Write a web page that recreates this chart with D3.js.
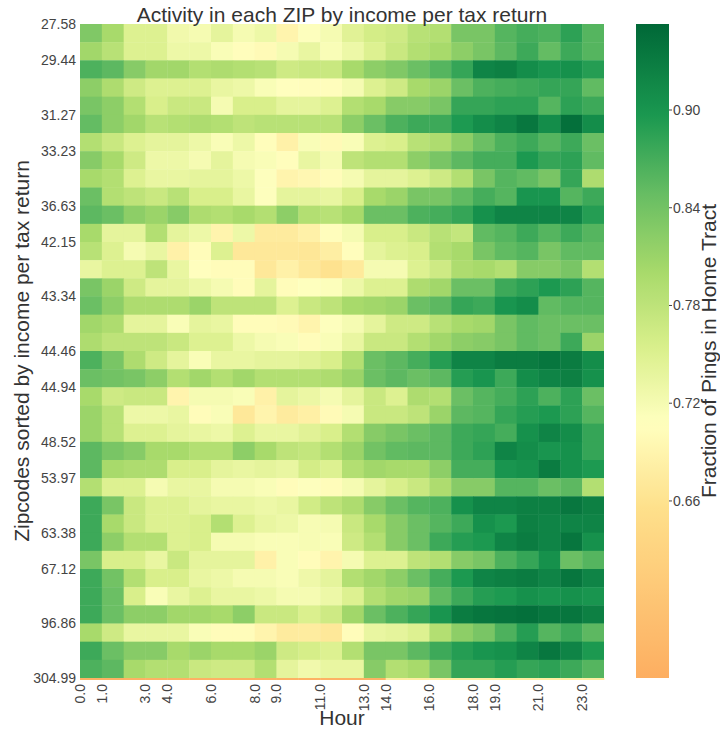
<!DOCTYPE html>
<html>
<head>
<meta charset="utf-8">
<script src="https://cdn.jsdelivr.net/npm/d3@7"></script>
<style>
  body { margin: 0; background: #fff; }
  svg { font-family: "Liberation Sans", Arial, sans-serif; }
</style>
</head>
<body>
<svg id="chart" width="720" height="731"></svg>
<script>
const hours = d3.range(24);
const hourTicks = [0, 1, 3, 4, 6, 8, 9, 11, 13, 14, 16, 18, 19, 21, 23];
const zipTickLabels = ["27.58", "29.44", "31.27", "33.23", "36.63", "42.15", "43.34", "44.46",
  "44.94", "48.52", "53.97", "63.38", "67.12", "96.86", "304.99"];
const zipTickRows = [0, 2, 5, 7, 10, 12, 15, 18, 20, 23, 25, 28, 30, 33, 36];
const colorTicks = [0.66, 0.72, 0.78, 0.84, 0.90];
const colorDomain = [0.5513, 0.9528];

// fraction of pings in home tract, one row per zip (sorted by income), one value per hour
const fractions = [
  [0.83,0.80,0.75,0.75,0.725,0.72,0.74,0.72,0.73,0.69,0.71,0.72,0.745,0.76,0.765,0.785,0.79,0.835,0.835,0.86,0.87,0.865,0.885,0.86],
  [0.805,0.785,0.75,0.75,0.73,0.73,0.715,0.705,0.70,0.72,0.735,0.715,0.73,0.75,0.77,0.79,0.80,0.82,0.835,0.855,0.875,0.85,0.875,0.86],
  [0.865,0.855,0.825,0.805,0.805,0.79,0.795,0.79,0.785,0.765,0.77,0.77,0.80,0.82,0.83,0.845,0.86,0.88,0.92,0.925,0.91,0.90,0.905,0.89],
  [0.82,0.795,0.765,0.75,0.75,0.75,0.735,0.73,0.715,0.707,0.705,0.705,0.72,0.75,0.765,0.80,0.81,0.845,0.865,0.87,0.875,0.88,0.88,0.852],
  [0.835,0.82,0.79,0.755,0.77,0.77,0.72,0.755,0.755,0.74,0.74,0.75,0.79,0.80,0.825,0.825,0.835,0.88,0.88,0.885,0.885,0.86,0.885,0.875],
  [0.85,0.82,0.805,0.785,0.79,0.795,0.79,0.78,0.785,0.785,0.785,0.785,0.82,0.845,0.865,0.875,0.875,0.895,0.91,0.92,0.935,0.91,0.944,0.91],
  [0.79,0.77,0.75,0.74,0.74,0.73,0.715,0.73,0.704,0.685,0.715,0.70,0.715,0.75,0.755,0.785,0.795,0.82,0.845,0.865,0.875,0.86,0.875,0.845],
  [0.825,0.80,0.765,0.73,0.73,0.72,0.74,0.72,0.715,0.705,0.735,0.72,0.78,0.79,0.79,0.82,0.835,0.855,0.87,0.87,0.896,0.88,0.885,0.852],
  [0.80,0.79,0.75,0.735,0.735,0.74,0.74,0.73,0.71,0.69,0.695,0.703,0.72,0.74,0.74,0.75,0.765,0.79,0.835,0.86,0.852,0.835,0.88,0.795],
  [0.845,0.79,0.78,0.77,0.785,0.755,0.755,0.735,0.71,0.74,0.74,0.735,0.755,0.80,0.81,0.835,0.835,0.852,0.87,0.86,0.90,0.90,0.86,0.875],
  [0.855,0.845,0.82,0.81,0.825,0.795,0.79,0.80,0.79,0.82,0.79,0.785,0.80,0.845,0.845,0.865,0.87,0.88,0.905,0.92,0.92,0.92,0.92,0.89],
  [0.80,0.74,0.74,0.79,0.74,0.73,0.69,0.73,0.675,0.675,0.685,0.705,0.72,0.755,0.755,0.77,0.785,0.775,0.852,0.86,0.875,0.86,0.875,0.86],
  [0.785,0.75,0.72,0.735,0.685,0.703,0.75,0.67,0.67,0.67,0.668,0.68,0.705,0.74,0.75,0.755,0.79,0.80,0.835,0.852,0.86,0.835,0.852,0.852],
  [0.735,0.75,0.75,0.78,0.735,0.707,0.703,0.703,0.67,0.685,0.671,0.66,0.672,0.72,0.72,0.75,0.765,0.795,0.80,0.79,0.825,0.825,0.835,0.79],
  [0.835,0.81,0.765,0.74,0.74,0.73,0.72,0.703,0.74,0.703,0.709,0.712,0.73,0.75,0.75,0.795,0.805,0.845,0.845,0.875,0.885,0.896,0.885,0.86],
  [0.845,0.82,0.795,0.795,0.795,0.81,0.78,0.78,0.78,0.75,0.77,0.78,0.80,0.805,0.81,0.845,0.855,0.88,0.875,0.90,0.91,0.852,0.86,0.86],
  [0.805,0.795,0.74,0.74,0.715,0.74,0.735,0.703,0.703,0.70,0.69,0.71,0.72,0.74,0.765,0.765,0.785,0.80,0.805,0.835,0.852,0.845,0.845,0.845],
  [0.795,0.78,0.78,0.78,0.77,0.75,0.75,0.73,0.72,0.715,0.703,0.715,0.735,0.77,0.77,0.79,0.805,0.82,0.825,0.835,0.852,0.845,0.875,0.81],
  [0.865,0.835,0.795,0.765,0.74,0.715,0.735,0.735,0.74,0.74,0.745,0.755,0.79,0.845,0.855,0.87,0.89,0.92,0.92,0.93,0.93,0.937,0.93,0.91],
  [0.845,0.84,0.835,0.82,0.79,0.805,0.79,0.805,0.79,0.79,0.79,0.795,0.81,0.845,0.855,0.845,0.855,0.89,0.90,0.875,0.91,0.92,0.925,0.905],
  [0.80,0.765,0.77,0.77,0.69,0.72,0.72,0.715,0.685,0.74,0.732,0.72,0.74,0.77,0.75,0.795,0.79,0.845,0.86,0.87,0.885,0.865,0.885,0.845],
  [0.81,0.785,0.73,0.73,0.735,0.703,0.715,0.67,0.69,0.675,0.682,0.70,0.72,0.77,0.77,0.78,0.81,0.855,0.86,0.88,0.89,0.896,0.885,0.86],
  [0.81,0.785,0.75,0.75,0.74,0.735,0.73,0.75,0.735,0.735,0.745,0.755,0.79,0.825,0.835,0.845,0.855,0.875,0.88,0.87,0.905,0.92,0.91,0.88],
  [0.855,0.835,0.825,0.80,0.80,0.79,0.79,0.82,0.80,0.78,0.775,0.79,0.81,0.84,0.852,0.855,0.855,0.875,0.885,0.92,0.91,0.90,0.905,0.88],
  [0.855,0.80,0.795,0.795,0.755,0.755,0.74,0.735,0.74,0.735,0.76,0.75,0.79,0.805,0.80,0.80,0.82,0.87,0.87,0.90,0.905,0.93,0.905,0.895],
  [0.79,0.75,0.75,0.72,0.735,0.735,0.72,0.72,0.715,0.703,0.71,0.703,0.72,0.74,0.755,0.77,0.795,0.825,0.825,0.86,0.86,0.845,0.855,0.79],
  [0.875,0.835,0.77,0.75,0.75,0.74,0.735,0.735,0.73,0.735,0.762,0.78,0.795,0.825,0.845,0.86,0.865,0.905,0.92,0.92,0.925,0.925,0.935,0.925],
  [0.875,0.80,0.77,0.75,0.75,0.755,0.79,0.75,0.735,0.73,0.718,0.72,0.77,0.80,0.825,0.845,0.86,0.875,0.905,0.896,0.925,0.92,0.92,0.92],
  [0.875,0.82,0.79,0.79,0.75,0.755,0.72,0.72,0.715,0.715,0.718,0.715,0.765,0.79,0.825,0.845,0.875,0.89,0.896,0.92,0.93,0.92,0.937,0.905],
  [0.835,0.755,0.755,0.735,0.77,0.74,0.74,0.74,0.685,0.715,0.703,0.69,0.72,0.75,0.75,0.78,0.79,0.825,0.835,0.865,0.88,0.905,0.845,0.86],
  [0.875,0.84,0.79,0.755,0.755,0.735,0.73,0.72,0.72,0.715,0.728,0.74,0.79,0.805,0.82,0.845,0.87,0.896,0.92,0.925,0.93,0.92,0.937,0.92],
  [0.875,0.845,0.755,0.715,0.735,0.75,0.735,0.735,0.73,0.72,0.72,0.73,0.75,0.79,0.805,0.81,0.852,0.875,0.89,0.895,0.905,0.90,0.905,0.90],
  [0.875,0.845,0.82,0.82,0.805,0.805,0.80,0.82,0.77,0.77,0.752,0.765,0.805,0.845,0.865,0.88,0.90,0.93,0.937,0.94,0.944,0.937,0.937,0.925],
  [0.80,0.765,0.735,0.735,0.735,0.715,0.703,0.703,0.69,0.675,0.676,0.67,0.703,0.735,0.74,0.75,0.79,0.82,0.835,0.865,0.89,0.86,0.875,0.855],
  [0.875,0.845,0.825,0.825,0.80,0.81,0.80,0.80,0.81,0.765,0.758,0.75,0.79,0.835,0.835,0.855,0.875,0.89,0.90,0.905,0.92,0.935,0.92,0.896],
  [0.865,0.855,0.80,0.79,0.79,0.77,0.765,0.765,0.79,0.74,0.725,0.735,0.735,0.825,0.79,0.80,0.835,0.88,0.88,0.89,0.88,0.885,0.875,0.86]
];
// last zip (304.99), only a sliver of it is visible under the grid
const lastRow = [0.56,0.56,0.56,0.56,0.56,0.56,0.56,0.56,0.56,0.56,0.56,0.56,0.56,0.56,
  0.68,0.68,0.68,0.68,0.68,0.68,0.68,0.68,0.68,0.68];

const svg = d3.select("#chart");
const textColor = "#444";

const x = d3.scaleLinear().domain([0, 24]).range([80, 604]);
const y = d3.scaleLinear().domain([0, 36]).range([24, 678]);

const color = d3.scaleLinear()
  .domain([0.5513, 0.656, 0.708, 0.755, 0.802, 0.849, 0.897, 0.9528])
  .range(["#fdae61", "#fee08b", "#ffffbf", "#d9ef8b", "#a6d96a", "#66bd63", "#1a9850", "#006837"])
  .interpolate(d3.interpolateRgb)
  .clamp(true);

const cells = [];
fractions.forEach((row, r) => row.forEach((v, h) => cells.push({ r, h, v })));

svg.append("g")
  .selectAll("rect")
  .data(cells)
  .enter()
  .append("rect")
  .attr("x", (d) => x(d.h))
  .attr("y", (d) => y(d.r))
  .attr("width", (d) => x(d.h + 1) - x(d.h) + (d.h < 23 ? 0.4 : 0))
  .attr("height", (d) => y(d.r + 1) - y(d.r) + (d.r < 35 ? 0.4 : 0))
  .attr("fill", (d) => color(d.v));

svg.append("g")
  .selectAll("rect")
  .data(lastRow)
  .enter()
  .append("rect")
  .attr("x", (d, h) => x(h))
  .attr("y", y(36))
  .attr("width", (d, h) => x(h + 1) - x(h) + 0.4)
  .attr("height", y(36.11) - y(36))
  .attr("fill", (d) => color(d));

// y tick labels sit on row edges
svg.append("g")
  .selectAll("text")
  .data(zipTickLabels)
  .enter()
  .append("text")
  .attr("x", 76)
  .attr("y", (d, i) => y(zipTickRows[i]))
  .attr("dy", "0.35em")
  .attr("text-anchor", "end")
  .attr("fill", textColor)
  .style("font-size", "14px")
  .text((d) => d);

svg.append("g")
  .selectAll("text")
  .data(hourTicks)
  .enter()
  .append("text")
  .attr("transform", (d) => `translate(${x(d)},684) rotate(-90)`)
  .attr("dy", "0.35em")
  .attr("text-anchor", "end")
  .attr("fill", textColor)
  .style("font-size", "14px")
  .text((d) => d.toFixed(1));

svg.append("text")
  .attr("x", 342)
  .attr("y", 22)
  .attr("text-anchor", "middle")
  .attr("fill", "#333")
  .style("font-size", "21px")
  .text("Activity in each ZIP by income per tax return");

svg.append("text")
  .attr("x", 342)
  .attr("y", 725)
  .attr("text-anchor", "middle")
  .attr("fill", "#333")
  .style("font-size", "21px")
  .text("Hour");

svg.append("text")
  .attr("transform", `translate(29,${(y(0) + y(36)) / 2}) rotate(-90)`)
  .attr("text-anchor", "middle")
  .attr("fill", "#333")
  .style("font-size", "21px")
  .text("Zipcodes sorted by income per tax return");

// colorbar
const cbY = d3.scaleLinear().domain(colorDomain).range([678, 24]);
const grad = svg.append("defs")
  .append("linearGradient")
  .attr("id", "cb")
  .attr("x1", 0).attr("y1", 1).attr("x2", 0).attr("y2", 0);
grad.selectAll("stop")
  .data(d3.range(0, 1.0001, 0.02))
  .enter()
  .append("stop")
  .attr("offset", (t) => t)
  .attr("stop-color", (t) => color(colorDomain[0] + t * (colorDomain[1] - colorDomain[0])));

svg.append("rect")
  .attr("x", 636)
  .attr("y", cbY(colorDomain[1]))
  .attr("width", 33)
  .attr("height", cbY(colorDomain[0]) - cbY(colorDomain[1]))
  .attr("fill", "url(#cb)");

const cbTicks = svg.append("g")
  .selectAll("g")
  .data(colorTicks)
  .enter()
  .append("g")
  .attr("transform", (d) => `translate(669,${cbY(d)})`);
cbTicks.append("line")
  .attr("x2", 3)
  .attr("stroke", textColor)
  .attr("stroke-width", 1);
cbTicks.append("text")
  .attr("x", 4)
  .attr("dy", "0.35em")
  .attr("fill", textColor)
  .style("font-size", "14px")
  .text((d) => d.toFixed(2));

svg.append("text")
  .attr("transform", `translate(716,${(cbY(colorDomain[0]) + cbY(colorDomain[1])) / 2}) rotate(-90)`)
  .attr("text-anchor", "middle")
  .attr("fill", "#333")
  .style("font-size", "21px")
  .text("Fraction of Pings in Home Tract");
</script>
</body>
</html>
